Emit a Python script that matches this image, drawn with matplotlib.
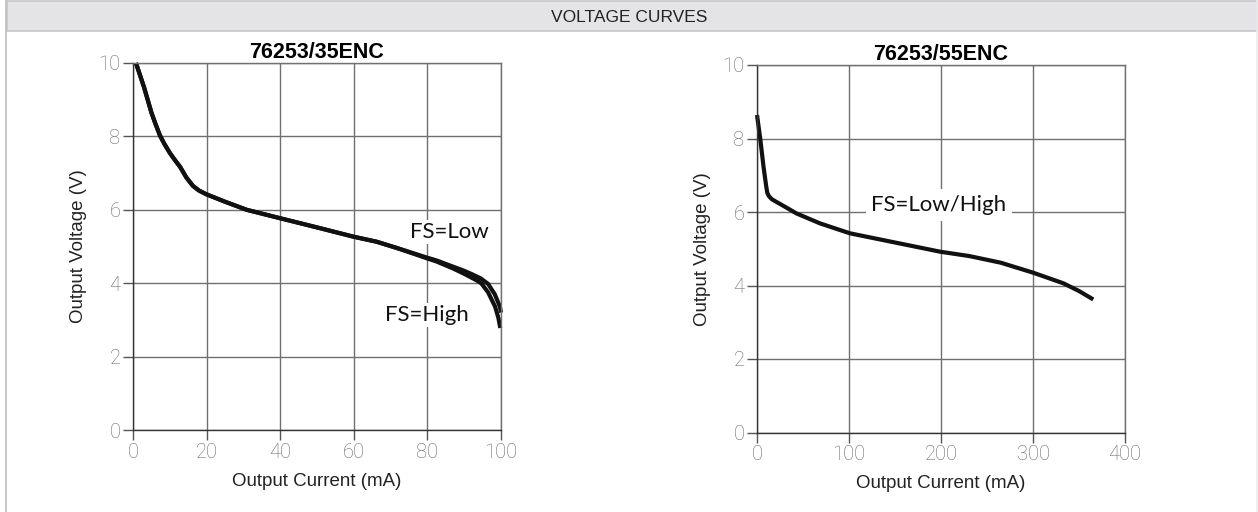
import matplotlib
matplotlib.use('Agg')
import matplotlib.pyplot as plt
from matplotlib.patches import Rectangle
from matplotlib.lines import Line2D

# 76253/35ENC curves (Output Current mA, Output Voltage V)
low35_i = [0.8, 3, 5, 6, 7.3, 8.5, 10, 11.5, 12.8, 14.5, 16.3, 18, 20, 25, 30.9, 40, 50, 59.8, 66.2, 72,
           79.8, 82.5, 87, 89.7, 92, 94.5, 96.5, 98.3, 99.7, 100]
low35_v = [10.0, 9.34, 8.65, 8.37, 8.03, 7.8, 7.55, 7.34, 7.17, 6.88, 6.65, 6.52, 6.42, 6.22, 6.0, 5.77, 5.52, 5.27, 5.13, 4.95,
           4.7, 4.62, 4.45, 4.35, 4.25, 4.13, 3.98, 3.7, 3.36, 3.2]
high35_i = [0.8, 3, 5, 6, 7.3, 8.5, 10, 11.5, 12.8, 14.5, 16.3, 18, 20, 25, 30.9, 40, 50, 59.8, 66.2, 72,
            79.8, 82.5, 87, 89.7, 92, 93.5, 94.7, 96.5, 98.4, 99.3, 99.8]
high35_v = [10.0, 9.34, 8.65, 8.37, 8.03, 7.8, 7.55, 7.34, 7.17, 6.88, 6.65, 6.52, 6.42, 6.22, 6.0, 5.77, 5.52, 5.27, 5.13, 4.95,
            4.68, 4.59, 4.4, 4.27, 4.15, 4.07, 3.99, 3.75, 3.36, 3.05, 2.78]

# 76253/55ENC curve
c55_i = [0, 3.5, 7, 10, 11.2, 13, 16, 20, 25, 43, 68.5, 101, 150, 199, 231, 265, 300, 333, 350, 365.5]
c55_v = [8.64, 8.0, 7.25, 6.7, 6.52, 6.43, 6.35, 6.29, 6.22, 5.96, 5.69, 5.42, 5.17, 4.92, 4.8, 4.62, 4.35, 4.06, 3.85, 3.62]

header = 'VOLTAGE CURVES'
titles = ['76253/35ENC', '76253/55ENC']
xticks_35 = [0, 20, 40, 60, 80, 100]
xticks_55 = [0, 100, 200, 300, 400]
yticks = [0, 2, 4, 6, 8, 10]

NARROW = ['Liberation Sans', 'DejaVu Sans']
LIGHT = ['Roboto', 'DejaVu Sans']
LABELF = ['Lato', 'DejaVu Sans']

W, H = 1258, 512
fig = plt.figure(figsize=(W / 100, H / 100), dpi=100)

# frame and header band
fig.add_artist(Rectangle((7 / W, 1 - 31 / H), (W - 8) / W, 30 / H, transform=fig.transFigure,
                         facecolor='#e4e4e6', edgecolor='#c6c6c8', lw=1.2))
fig.add_artist(Line2D([6 / W, 6 / W], [0, 1 - 1 / H], transform=fig.transFigure, color='#bdbdbd', lw=1.2))
fig.add_artist(Line2D([1256.5 / W, 1256.5 / W], [0, 1 - 1 / H], transform=fig.transFigure, color='#ececec', lw=1.2))
fig.text(629 / W, 1 - 17 / H, header, ha='center', va='center', fontsize=12.5, family=NARROW, color='#222222')


def make_axes(rect, xmax, xticks):
    ax = fig.add_axes(rect)
    ax.set_xlim(0, xmax)
    ax.set_ylim(0, 10)
    ax.set_xticks(xticks)
    ax.set_yticks(yticks)
    ax.grid(True, color='#707070', lw=1.0)
    ax.set_axisbelow(True)
    for s in ax.spines.values():
        s.set_color('#707070')
        s.set_linewidth(1.0)
    ax.spines['left'].set_color('#333333')
    ax.spines['bottom'].set_color('#333333')
    ax.tick_params(direction='out', length=7, width=1, color='#555555',
                   labelsize=14.5, labelcolor='#6a6a6a', pad=2)
    for lab in ax.get_xticklabels() + ax.get_yticklabels():
        lab.set_family(LIGHT)
        lab.set_fontweight('light')
    ax.set_xlabel('Output Current (mA)', family=NARROW, fontsize=13.5, color='#222222', labelpad=8)
    ax.set_ylabel('Output Voltage (V)', family=NARROW, fontsize=13.5, color='#222222', labelpad=8)
    return ax


ax1 = make_axes([133 / W, 1 - 430 / H, 368 / W, 367 / H], 100, xticks_35)
ax1.set_title(titles[0], family=NARROW, fontweight='bold', fontsize=15.5, pad=3)
ax1.plot(low35_i, low35_v, color='#111111', lw=3.0, solid_capstyle='butt', solid_joinstyle='round', clip_on=False)
ax1.plot(high35_i, high35_v, color='#111111', lw=3.0, solid_capstyle='butt', solid_joinstyle='round', clip_on=False)
ax1.text(85.9, 5.4, 'FS=Low', ha='center', va='center', fontsize=16, family=LABELF, color='#111111',
         bbox=dict(facecolor='white', edgecolor='none', pad=1.5))
ax1.text(79.8, 3.13, 'FS=High', ha='center', va='center', fontsize=16, family=LABELF, color='#111111',
         bbox=dict(facecolor='white', edgecolor='none', pad=1.5))

ax2 = make_axes([757 / W, 1 - 432.5 / H, 368 / W, 367.5 / H], 400, xticks_55)
ax2.set_title(titles[1], family=NARROW, fontweight='bold', fontsize=15.5, pad=3)
ax2.plot(c55_i, c55_v, color='#111111', lw=3.0, solid_capstyle='butt', solid_joinstyle='round', clip_on=False)
ax2.text(197.8, 6.19, 'FS=Low/High', ha='center', va='center', fontsize=16, family=LABELF, color='#111111',
         bbox=dict(facecolor='white', edgecolor='none', pad=4))

fig.savefig('out.png', dpi=100)
